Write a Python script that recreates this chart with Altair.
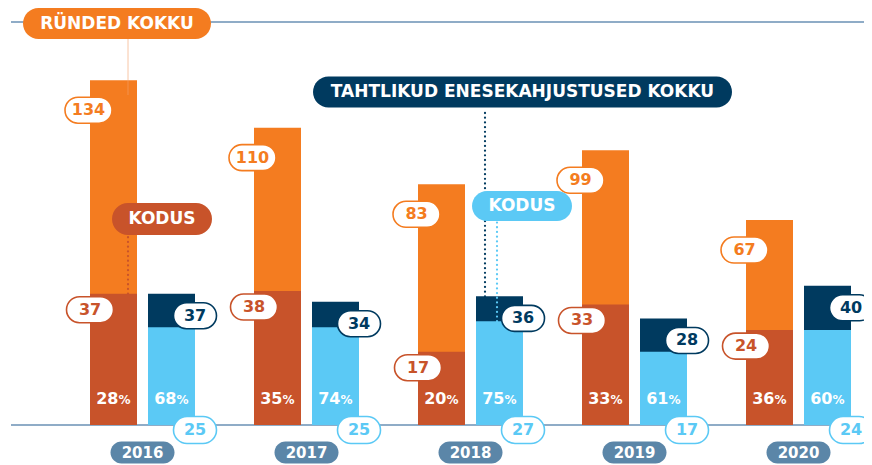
import altair as alt
import pandas as pd

# ---- data ----
years = [2016, 2017, 2018, 2019, 2020]
attacks_total = [134, 110, 83, 99, 67]
attacks_home = [37, 38, 17, 33, 24]
attacks_home_pct = [28, 35, 20, 33, 36]
selfharm_total = [37, 34, 36, 28, 40]
selfharm_home = [25, 25, 27, 17, 24]
selfharm_home_pct = [68, 74, 75, 61, 60]

df = pd.DataFrame({
    "year": years,
    "at_total": attacks_total,
    "at_home": attacks_home,
    "at_pct": attacks_home_pct,
    "sh_total": selfharm_total,
    "sh_home": selfharm_home,
    "sh_pct": selfharm_home_pct,
})

# ---- style ----
ORANGE = "#f47c20"
DARK_OR = "#c8532a"
NAVY = "#003a5f"
LIGHT = "#5bc9f5"
STEEL = "#5b86a8"
LINE = "#6a90b4"
FONT = "DejaVu Sans"

W, H = 856, 403
STEP = 164.0              # px per year group
X0 = 2016 - 134.5 / STEP
X1 = X0 + W / STEP
GAP = 5.5 / STEP
BW = 47.0 / STEP

xs = alt.Scale(domain=[X0, X1], nice=False, zero=False, padding=0)
ys = alt.Scale(type="pow", exponent=0.75, domain=[0, 165], nice=False, zero=True, padding=0)


def pill(w, h, dx=0.0, dy=0.0):
    r = h / 2.0
    l = dx - w / 2.0 + r
    rr = dx + w / 2.0 - r
    t = dy - r
    b = dy + r
    return (f"M{l},{t}L{rr},{t}A{r},{r} 0 0 1 {rr},{b}"
            f"L{l},{b}A{r},{r} 0 0 1 {l},{t}Z")


base = alt.Chart(df).transform_calculate(
    ox1=f"datum.year - {GAP + BW}",
    ox2=f"datum.year - {GAP}",
    oc=f"datum.year - {GAP + BW / 2}",
    nx1=f"datum.year + {GAP}",
    nx2=f"datum.year + {GAP + BW}",
    nc=f"datum.year + {GAP + BW / 2}",
)

one = alt.Chart(pd.DataFrame({"k": [0]}))

# ---- lines ----
top_rule = one.mark_rule(color=LINE, strokeWidth=1.6).encode(
    x=alt.value(3), x2=alt.value(W), y=alt.value(0))
base_rule = one.mark_rule(color=LINE, strokeWidth=1.6).encode(
    x=alt.value(3), x2=alt.value(W), y=alt.Y(datum=0, scale=ys, axis=None))

# ---- bars ----
def bars(x1, x2, yf, color):
    return base.mark_rect(color=color).encode(
        x=alt.X(f"{x1}:Q", scale=xs, axis=None), x2=f"{x2}:Q",
        y=alt.Y(f"{yf}:Q", scale=ys, axis=None), y2=alt.datum(0))

b_or = bars("ox1", "ox2", "at_total", ORANGE)
b_dor = bars("ox1", "ox2", "at_home", DARK_OR)
b_nv = bars("nx1", "nx2", "sh_total", NAVY)
b_lt = bars("nx1", "nx2", "sh_home", LIGHT)

# ---- leader lines ----
x_runded = 2016 - 14.5 / STEP
lead_runded = one.mark_rule(color="#f4a06a", opacity=0.6, strokeWidth=1).encode(
    x=alt.X(datum=x_runded, scale=xs), y=alt.value(16.5), y2=alt.value(73))
lead_kodus1 = one.mark_rule(color=DARK_OR, strokeWidth=2.2, strokeDash=[0.1, 4.6], strokeCap="round").encode(
    x=alt.X(datum=x_runded, scale=xs), y=alt.Y(datum=37, scale=ys), y2=alt.value(214))
lead_tahtlik = one.mark_rule(color=NAVY, strokeWidth=2.2, strokeDash=[0.1, 4.6], strokeCap="round").encode(
    x=alt.X(datum=2018 + 14.5 / STEP, scale=xs), y=alt.Y(datum=36, scale=ys), y2=alt.value(87))
lead_kodus2 = one.mark_rule(color=LIGHT, strokeWidth=2.2, strokeDash=[0.1, 4.6], strokeCap="round").encode(
    x=alt.X(datum=2018 + 26.5 / STEP, scale=xs), y=alt.Y(datum=27, scale=ys), y2=alt.value(200))

# ---- number pills ----
def num_pill(xf, yf, w, h, dx, dy, color, ydatum=None):
    enc_y = alt.Y(datum=ydatum, scale=ys) if ydatum is not None else alt.Y(f"{yf}:Q", scale=ys)
    p = base.mark_point(shape=pill(w, h, dx, dy), size=4, filled=True, fill="white",
                        stroke=color, strokeWidth=1.6, opacity=1).encode(
        x=alt.X(f"{xf}:Q", scale=xs), y=enc_y)
    t = base.mark_text(font=FONT, fontWeight="bold", fontSize=16, color=color,
                       dx=dx, dy=dy, baseline="middle", align="center").encode(
        x=alt.X(f"{xf}:Q", scale=xs), y=enc_y, text=alt.Text(f"{yf}:Q"))
    return p, t


p_at, t_at = num_pill("ox1", "at_total", 47, 26, -1.5, 30, ORANGE)
p_ah, t_ah = num_pill("ox1", "at_home", 47, 26, 0, 16, DARK_OR)
p_st, t_st = num_pill("nx2", "sh_total", 43, 26, 0, 22, NAVY)
p_sh, t_sh = num_pill("nx2", "sh_home", 43, 27, 0, 5, LIGHT, ydatum=0)

# ---- percent labels ----
def pct(xf, field):
    n = base.mark_text(font=FONT, fontWeight="bold", fontSize=16, color="white",
                       align="right", baseline="alphabetic", dx=5, dy=-21).encode(
        x=alt.X(f"{xf}:Q", scale=xs), y=alt.Y(datum=0, scale=ys), text=alt.Text(f"{field}:Q"))
    s = base.mark_text(font=FONT, fontWeight="bold", fontSize=12, color="white",
                       align="left", baseline="alphabetic", dx=5, dy=-21, text="%").encode(
        x=alt.X(f"{xf}:Q", scale=xs), y=alt.Y(datum=0, scale=ys))
    return n, s


pa_n, pa_s = pct("oc", "at_pct")
ps_n, ps_s = pct("nc", "sh_pct")

# ---- year pills ----
yr_p = base.mark_point(shape=pill(64, 22, 0, 27.5), size=4, filled=True, fill=STEEL,
                       strokeWidth=0, opacity=1).encode(
    x=alt.X("year:Q", scale=xs), y=alt.Y(datum=0, scale=ys))
yr_t = base.mark_text(font=FONT, fontWeight="bold", fontSize=15, color="white",
                      dy=28, baseline="middle").encode(
    x=alt.X("year:Q", scale=xs), y=alt.Y(datum=0, scale=ys), text="year:N")

# ---- callout labels ----
def callout(text, xv, yv, w, h, fill):
    p = one.mark_point(shape=pill(w, h), size=4, filled=True, fill=fill,
                       strokeWidth=0, opacity=1).encode(
        x=alt.X(datum=xv, scale=xs), y=alt.value(yv))
    t = one.mark_text(font=FONT, fontWeight="bold", fontSize=17, color="white",
                      baseline="middle", text=text).encode(
        x=alt.X(datum=xv, scale=xs), y=alt.value(yv))
    return p, t


c1p, c1t = callout("RÜNDED KOKKU", 2016 - 25.5 / STEP, 1.5, 188, 31, ORANGE)
c2p, c2t = callout("KODUS", 2016 + 19.5 / STEP, 197, 100, 32, DARK_OR)
c3p, c3t = callout("TAHTLIKUD ENESEKAHJUSTUSED KOKKU", 2018 + 52 / STEP, 70, 419, 31, NAVY)
c4p, c4t = callout("KODUS", 2018 + 51.5 / STEP, 184, 100, 30, LIGHT)

chart = alt.layer(
    top_rule, base_rule,
    b_or, b_dor, b_nv, b_lt,
    lead_runded, lead_kodus1, lead_tahtlik, lead_kodus2,
    p_at, t_at, p_ah, t_ah, p_st, t_st, p_sh, t_sh,
    pa_n, pa_s, ps_n, ps_s,
    yr_p, yr_t,
    c1p, c1t, c2p, c2t, c3p, c3t, c4p, c4t,
).properties(
    width=W, height=H,
    autosize=alt.AutoSizeParams(type="none"),
    padding={"left": 0, "top": 14, "right": 0, "bottom": 40},
).configure_view(stroke=None)

chart.save("out.html", embed_options={"renderer": "svg", "actions": False})
